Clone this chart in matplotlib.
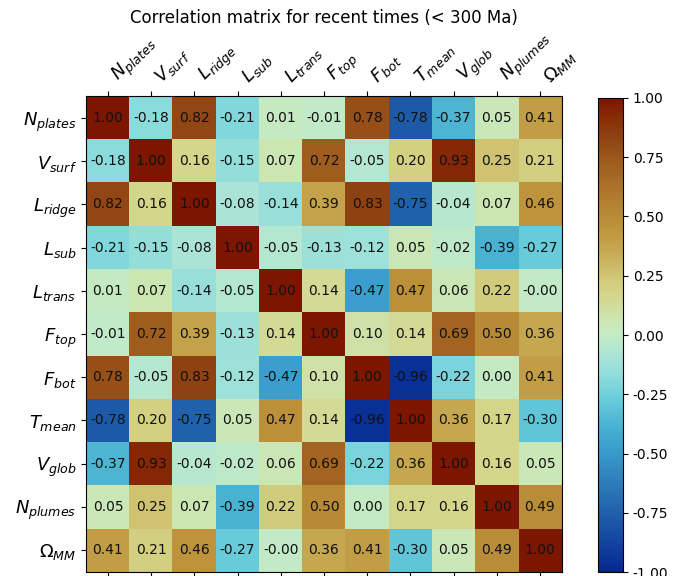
import numpy as np
import matplotlib
matplotlib.use("Agg")
import matplotlib.pyplot as plt
from matplotlib.colors import LinearSegmentedColormap

# Variable names (mathtext labels)
labels = [r"$N_{plates}$", r"$V_{surf}$", r"$L_{ridge}$", r"$L_{sub}$",
          r"$L_{trans}$", r"$F_{top}$", r"$F_{bot}$", r"$T_{mean}$",
          r"$V_{glob}$", r"$N_{plumes}$", r"$\Omega_{MM}$"]

# Correlation coefficients, one row per variable
r_nplates = [1.00, -0.18, 0.82, -0.21, 0.01, -0.01, 0.78, -0.78, -0.37, 0.05, 0.41]
r_vsurf = [-0.18, 1.00, 0.16, -0.15, 0.07, 0.72, -0.05, 0.20, 0.93, 0.25, 0.21]
r_lridge = [0.82, 0.16, 1.00, -0.08, -0.14, 0.39, 0.83, -0.75, -0.04, 0.07, 0.46]
r_lsub = [-0.21, -0.15, -0.08, 1.00, -0.05, -0.13, -0.12, 0.05, -0.02, -0.39, -0.27]
r_ltrans = [0.01, 0.07, -0.14, -0.05, 1.00, 0.14, -0.47, 0.47, 0.06, 0.22, -0.001]
r_ftop = [-0.01, 0.72, 0.39, -0.13, 0.14, 1.00, 0.10, 0.14, 0.69, 0.50, 0.36]
r_fbot = [0.78, -0.05, 0.83, -0.12, -0.47, 0.10, 1.00, -0.96, -0.22, 0.00, 0.41]
r_tmean = [-0.78, 0.20, -0.75, 0.05, 0.47, 0.14, -0.96, 1.00, 0.36, 0.17, -0.30]
r_vglob = [-0.37, 0.93, -0.04, -0.02, 0.06, 0.69, -0.22, 0.36, 1.00, 0.16, 0.05]
r_nplumes = [0.05, 0.25, 0.07, -0.39, 0.22, 0.50, 0.00, 0.17, 0.16, 1.00, 0.49]
r_omega = [0.41, 0.21, 0.46, -0.27, -0.001, 0.36, 0.41, -0.30, 0.05, 0.49, 1.00]

corr = np.array([r_nplates, r_vsurf, r_lridge, r_lsub, r_ltrans, r_ftop,
                 r_fbot, r_tmean, r_vglob, r_nplumes, r_omega])

# Diverging blue -> pale green -> brown colormap (roma-like, reversed)
anchors = [
    (-1.00, (5, 40, 140)),
    (-0.96, (10, 50, 150)),
    (-0.75, (32, 97, 172)),
    (-0.47, (60, 160, 205)),
    (-0.38, (75, 180, 210)),
    (-0.27, (105, 204, 218)),
    (-0.18, (140, 220, 220)),
    (-0.08, (172, 229, 214)),
    (0.00, (196, 235, 198)),
    (0.07, (205, 230, 178)),
    (0.16, (212, 215, 140)),
    (0.22, (210, 205, 125)),
    (0.36, (198, 168, 80)),
    (0.47, (188, 145, 58)),
    (0.60, (175, 120, 45)),
    (0.72, (160, 95, 30)),
    (0.82, (145, 70, 20)),
    (0.93, (134, 42, 5)),
    (1.00, (125, 22, 0)),
]
cmap = LinearSegmentedColormap.from_list(
    "roma_r", [((v + 1) / 2, tuple(c / 255 for c in rgb)) for v, rgb in anchors], N=256)

fig = plt.figure(figsize=(6.79, 5.76), dpi=100)
ax = fig.add_axes([0.1272, 0.00764, 0.6999, 0.8250])
cax = fig.add_axes([0.8807, 0.0069, 0.0368, 0.8230])

n = len(labels)
im = ax.imshow(corr, cmap=cmap, vmin=-1, vmax=1, aspect="auto")

for i in range(n):
    for j in range(n):
        ax.text(j, i, f"{corr[i, j]:.2f}", ha="center", va="center",
                fontsize=10, color="#111111")

ax.set_xticks(range(n))
ax.set_yticks(range(n))
ax.set_xticklabels(labels, fontsize=13)
ax.set_yticklabels(labels, fontsize=13)
ax.tick_params(axis="x", top=True, labeltop=True, bottom=True, labelbottom=False)
plt.setp(ax.get_xticklabels(), rotation=45, ha="left")

cb = fig.colorbar(im, cax=cax)
cb.set_ticks([-1.0, -0.75, -0.5, -0.25, 0.0, 0.25, 0.5, 0.75, 1.0])
cb.ax.yaxis.set_major_formatter(matplotlib.ticker.FormatStrFormatter("%.2f"))
cb.ax.tick_params(labelsize=10)

fig.text(324 / 679, 1 - 18 / 576, "Correlation matrix for recent times (< 300 Ma)",
         ha="center", va="center", fontsize=12)

fig.savefig("out.png", dpi=100)
